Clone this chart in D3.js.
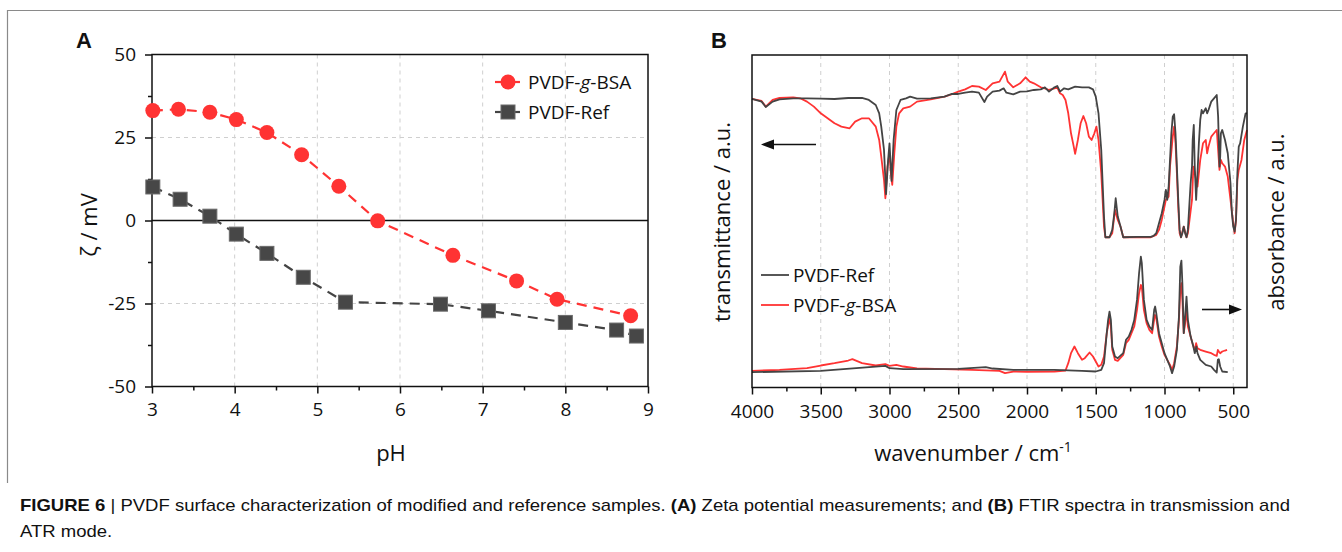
<!DOCTYPE html>
<html><head><meta charset="utf-8">
<script src="https://cdn.jsdelivr.net/npm/d3@7"></script>
<style>
body{margin:0;background:#fff;}
svg text{font-family:"Open Sans",sans-serif;fill:#111;}
</style></head><body>
<svg id="fig" width="1342" height="552"></svg>
<script>
// ---------- Panel A data (zeta potential) ----------
const pH_BSA   = [3.01,3.32,3.70,4.02,4.39,4.81,5.26,5.73,6.64,7.41,7.90,8.79];
const zeta_BSA = [33.1,33.5,32.6,30.4,26.5,19.8,10.3,-0.1,-10.5,-18.2,-23.7,-28.7];
const pH_Ref   = [3.01,3.34,3.70,4.02,4.39,4.83,5.34,6.49,7.07,8.00,8.62,8.86];
const zeta_Ref = [10.1,6.4,1.3,-4.1,-9.9,-17.1,-24.6,-25.2,-27.2,-30.7,-33.0,-34.8];
const pHTicks = [3,4,5,6,7,8,9];
const zetaTicks = [-50,-25,0,25,50];
const labelsA = ["PVDF-g-BSA","PVDF-Ref"];

// ---------- Panel B data (FTIR, arbitrary units) ----------
const wnTicks = [4000,3500,3000,2500,2000,1500,1000,500];
const labelsB = ["PVDF-Ref","PVDF-g-BSA"];
// transmission, PVDF-Ref
const transRef = [[4000,86.6],[3930,85.8],[3900,84.2],[3850,85.8],[3800,86.5],[3700,86.8],[3600,86.8],[3500,86.7],[3400,86.6],[3300,86.9],[3200,86.9],[3150,86.3],[3100,84.8],[3075,82.3],[3060,78.3],[3040,71.3],[3025,58.0],[3010,68.3],[3000,73.3],[2985,62.0],[2970,74.3],[2950,83.3],[2920,86.3],[2880,86.8],[2850,87.3],[2800,86.7],[2700,86.8],[2600,87.3],[2550,88.1],[2500,88.1],[2450,88.5],[2400,88.8],[2350,88.5],[2310,85.7],[2290,87.3],[2250,88.8],[2200,89.1],[2170,89.8],[2150,88.5],[2100,88.0],[2050,88.8],[2000,88.9],[1950,89.3],[1900,89.5],[1870,90.1],[1840,88.8],[1800,90.1],[1780,90.5],[1760,88.8],[1730,89.8],[1700,89.5],[1650,90.3],[1600,90.1],[1550,90.1],[1520,89.5],[1500,87.3],[1480,82.3],[1460,71.3],[1450,61.3],[1440,51.3],[1430,45.1],[1400,45.1],[1380,47.3],[1365,52.3],[1355,56.8],[1340,51.3],[1320,48.3],[1300,45.1],[1200,45.2],[1100,45.2],[1080,45.5],[1060,46.3],[1040,49.3],[1020,52.3],[1000,56.3],[990,59.3],[980,56.3],[970,60.3],[960,68.3],[950,76.3],[940,81.3],[930,82.0],[920,76.3],[910,66.3],[900,56.3],[890,47.3],[880,45.1],[870,46.3],[860,48.3],[850,46.3],[840,45.1],[830,47.3],[820,54.3],[810,61.3],[800,66.3],[795,74.3],[787,78.8],[780,66.3],[770,56.3],[760,64.3],[750,73.3],[740,80.3],[730,83.3],[720,82.3],[700,83.8],[690,82.3],[680,83.3],[660,85.8],[640,86.8],[620,87.8],[610,81.3],[600,66.3],[595,69.3],[590,76.3],[580,77.3],[560,74.3],[540,70.3],[520,61.3],[510,52.3],[500,48.3],[490,46.8],[480,50.3],[470,64.3],[460,72.3],[450,73.3],[430,78.3],[410,82.3],[400,82.3]];
// transmission, PVDF-g-BSA
const transBSA = [[4000,86.6],[3930,86.0],[3900,84.3],[3850,86.3],[3800,86.9],[3700,87.1],[3650,86.8],[3600,85.8],[3550,84.3],[3500,82.3],[3450,80.8],[3400,79.3],[3350,78.3],[3290,77.8],[3250,79.8],[3200,80.8],[3150,80.8],[3100,78.3],[3075,74.3],[3060,69.3],[3040,62.3],[3030,56.8],[3015,66.3],[3000,70.3],[2990,64.3],[2980,60.8],[2965,70.3],[2950,78.3],[2930,82.3],[2900,83.8],[2850,84.3],[2800,85.8],[2700,86.5],[2600,87.3],[2550,88.0],[2500,88.8],[2450,89.5],[2400,90.5],[2350,90.3],[2300,89.3],[2250,91.3],[2200,91.8],[2160,94.8],[2140,91.8],[2100,90.1],[2050,91.3],[2010,93.1],[1980,91.8],[1950,91.3],[1900,90.1],[1870,89.8],[1840,89.3],[1800,89.8],[1780,90.1],[1760,88.3],[1740,87.8],[1720,86.3],[1700,82.3],[1680,76.3],[1660,72.3],[1650,70.1],[1630,74.3],[1610,79.3],[1590,81.5],[1570,79.3],[1550,75.3],[1530,74.3],[1510,76.3],[1495,78.3],[1480,74.3],[1460,64.3],[1450,56.3],[1440,48.3],[1430,45.1],[1400,45.1],[1380,46.3],[1360,53.3],[1340,50.3],[1320,48.3],[1300,45.1],[1100,45.1],[1060,45.8],[1040,47.3],[1020,50.3],[1000,54.3],[990,56.3],[970,57.3],[960,66.3],[940,75.3],[930,78.3],[920,73.3],[910,64.3],[900,54.3],[890,46.3],[880,45.1],[860,48.3],[840,45.1],[830,46.3],[800,56.3],[790,66.3],[780,64.3],[760,60.3],[740,68.3],[720,73.3],[700,74.3],[690,70.3],[680,72.3],[660,75.3],[640,76.3],[620,77.3],[600,65.3],[590,68.3],[580,67.3],[560,66.3],[540,63.3],[520,56.3],[500,49.3],[490,46.3],[480,50.3],[470,62.3],[460,65.3],[440,68.3],[420,74.3],[400,77.3]];
// ATR absorbance, PVDF-Ref
const absRef = [[4000,4.6],[3500,5.0],[3030,6.5],[3000,5.8],[2900,5.5],[2500,5.6],[2300,6.1],[2250,5.7],[2100,5.3],[1800,5.3],[1600,5.0],[1500,4.8],[1460,5.3],[1440,7.3],[1420,16.3],[1410,20.3],[1400,22.8],[1390,20.3],[1380,12.3],[1360,9.3],[1340,8.8],[1300,10.3],[1280,14.3],[1260,15.3],[1240,17.3],[1220,20.3],[1200,26.3],[1185,34.3],[1172,39.3],[1165,37.3],[1150,26.3],[1130,20.3],[1110,18.3],[1090,17.3],[1075,23.3],[1068,24.3],[1060,22.3],[1040,16.3],[1020,13.3],[1000,10.3],[980,8.3],[960,6.3],[945,4.3],[930,6.3],[910,11.3],[895,21.3],[885,36.3],[877,38.1],[870,31.3],[860,16.3],[850,21.3],[840,27.3],[830,20.3],[810,15.3],[790,12.3],[780,10.3],[768,12.3],[760,10.3],[740,8.3],[700,6.8],[660,6.3],[640,5.3],[620,4.5],[612,8.3],[605,8.5],[595,6.3],[580,4.8],[540,4.6]];
// ATR absorbance, PVDF-g-BSA
const absBSA = [[4000,5.0],[3800,5.3],[3600,5.8],[3500,6.6],[3400,7.3],[3300,8.1],[3270,8.5],[3200,7.3],[3100,6.6],[3030,7.0],[3000,6.5],[2950,6.8],[2900,6.3],[2800,5.7],[2600,5.5],[2400,5.3],[2200,5.0],[2160,4.3],[2100,4.8],[2000,4.7],[1800,4.8],[1720,5.1],[1700,7.3],[1680,10.3],[1655,12.3],[1630,10.3],[1600,8.3],[1580,8.8],[1545,10.5],[1520,9.3],[1500,7.8],[1480,6.3],[1460,6.8],[1440,9.3],[1420,16.3],[1400,20.8],[1390,18.3],[1380,11.3],[1360,8.3],[1340,8.0],[1300,9.8],[1280,13.3],[1260,14.3],[1240,16.3],[1220,18.3],[1200,23.3],[1185,28.3],[1172,30.8],[1165,30.3],[1150,23.3],[1130,19.3],[1110,17.3],[1090,16.3],[1070,21.8],[1060,20.8],[1040,15.3],[1020,12.3],[1000,9.8],[980,8.3],[960,6.8],[945,5.3],[930,7.3],[910,12.3],[895,20.3],[885,29.3],[877,31.3],[870,26.3],[860,16.3],[850,19.3],[840,23.3],[830,18.3],[810,15.3],[790,12.3],[780,11.3],[770,13.3],[760,11.8],[740,11.3],[700,10.8],[660,10.3],[640,9.8],[620,9.5],[612,11.3],[605,10.8],[595,10.3],[580,10.8],[560,11.1],[545,11.3]];

const RED = "#ff3333", GRAY = "#444444", GRID = "#cfcfcf";
const svg = d3.select("#fig");

// figure border (top and left)
svg.append("line").attr("x1",7).attr("y1",10.5).attr("x2",1342).attr("y2",10.5).attr("stroke","#8a8a8a").attr("stroke-width",1.2);
svg.append("line").attr("x1",7.5).attr("y1",10).attr("x2",7.5).attr("y2",483).attr("stroke","#8a8a8a").attr("stroke-width",1.2);

// ================= Panel A =================
const xA = d3.scaleLinear().domain([3,9]).range([152,648]);
const yA = d3.scaleLinear().domain([-50,50]).range([386.5,54.5]);
const gA = svg.append("g");

// grid
gA.selectAll(".vg").data(pHTicks.slice(1,-1)).join("line")
  .attr("x1",d=>xA(d)).attr("x2",d=>xA(d)).attr("y1",yA(50)).attr("y2",yA(-50))
  .attr("stroke",GRID).attr("stroke-dasharray","4,4");
gA.selectAll(".hg").data([25,-25]).join("line")
  .attr("x1",xA(3)).attr("x2",xA(9)).attr("y1",d=>yA(d)).attr("y2",d=>yA(d))
  .attr("stroke",GRID).attr("stroke-dasharray","4,4");
// zero line
gA.append("line").attr("x1",xA(3)).attr("x2",xA(9)).attr("y1",yA(0)).attr("y2",yA(0))
  .attr("stroke","#111").attr("stroke-width",1.5);

// axes
const axXA = d3.axisBottom(xA).tickValues(pHTicks).tickSize(7).tickPadding(9).tickFormat(d3.format("d"));
const axXAm = d3.axisBottom(xA).tickValues(d3.range(3.5,9,1)).tickSize(4).tickFormat("");
const axYA = d3.axisLeft(yA).tickValues(zetaTicks).tickSize(7).tickPadding(9).tickFormat(d=>String(d));
const axYAm = d3.axisLeft(yA).tickValues([-37.5,-12.5,12.5,37.5]).tickSize(4).tickFormat("");
function styleAxis(g){ g.select(".domain").remove(); g.selectAll("line").attr("stroke","#111").attr("stroke-width",1.5);
  g.selectAll("text").style("font-size","19px").attr("fill","#111"); }
gA.append("g").attr("transform",`translate(0,${yA(-50)})`).call(axXA).call(styleAxis);
gA.append("g").attr("transform",`translate(0,${yA(-50)})`).call(axXAm).call(styleAxis);
gA.append("g").attr("transform",`translate(${xA(3)},0)`).call(axYA).call(styleAxis);
gA.append("g").attr("transform",`translate(${xA(3)},0)`).call(axYAm).call(styleAxis);
// frame
gA.append("rect").attr("x",xA(3)).attr("y",yA(50)).attr("width",xA(9)-xA(3)).attr("height",yA(-50)-yA(50))
  .attr("fill","none").attr("stroke","#111").attr("stroke-width",1.5);

// series
const lineA = d3.line().x(d=>xA(d[0])).y(d=>yA(d[1]));
const ref = pH_Ref.map((p,i)=>[p,zeta_Ref[i]]);
const bsa = pH_BSA.map((p,i)=>[p,zeta_BSA[i]]);
gA.append("path").datum(ref).attr("d",lineA).attr("fill","none").attr("stroke",GRAY).attr("stroke-width",2.2).attr("stroke-dasharray","10,7");
gA.append("path").datum(bsa).attr("d",lineA).attr("fill","none").attr("stroke",RED).attr("stroke-width",2.2).attr("stroke-dasharray","10,7");
gA.selectAll(".sq").data(ref).join("rect")
  .attr("x",d=>xA(d[0])-7).attr("y",d=>yA(d[1])-7).attr("width",14).attr("height",14)
  .attr("fill","#474747").attr("stroke","#6a6a6a").attr("stroke-width",1);
gA.selectAll(".ci").data(bsa).join("circle")
  .attr("cx",d=>xA(d[0])).attr("cy",d=>yA(d[1])).attr("r",7.5).attr("fill",RED);

// legend A
const legA = gA.append("g");
legA.append("line").attr("x1",495).attr("x2",520).attr("y1",82).attr("y2",82).attr("stroke",RED).attr("stroke-width",2.2);
legA.append("circle").attr("cx",508).attr("cy",82).attr("r",7.5).attr("fill",RED);
legA.append("line").attr("x1",495).attr("x2",520).attr("y1",112).attr("y2",112).attr("stroke",GRAY).attr("stroke-width",2.2);
legA.append("rect").attr("x",501).attr("y",105).attr("width",14).attr("height",14).attr("fill","#474747").attr("stroke","#6a6a6a");
function legendText(g,x,y,label){
  const t = g.append("text").attr("x",x).attr("y",y).style("font-size","19px");
  const parts = label.split("-g-");
  if(parts.length===2){ t.append("tspan").text(parts[0]+"-"); t.append("tspan").style("font-style","italic").text("g"); t.append("tspan").text("-"+parts[1]); }
  else t.text(label);
}
legendText(legA,528,89,labelsA[0]);
legendText(legA,528,119,labelsA[1]);

// titles A
svg.append("text").attr("x",76).attr("y",48).style("font-family","Liberation Sans, Arial, sans-serif").style("font-weight","bold").style("font-size","22px").text("A");
svg.append("text").attr("x",391).attr("y",461).attr("text-anchor","middle").style("font-size","22px").text("pH");
svg.append("text").attr("transform","translate(97,225) rotate(-90)").attr("text-anchor","middle").style("font-size","22px").text("ζ / mV");

// ================= Panel B =================
const xB = d3.scaleLinear().domain([4000,400]).range([752,1247]);
const yB = d3.scaleLinear().domain([0,99.8]).range([387.5,55]);
const gB = svg.append("g");
gB.selectAll(".vg").data(wnTicks.slice(1)).join("line")
  .attr("x1",d=>xB(d)).attr("x2",d=>xB(d)).attr("y1",yB(99.8)).attr("y2",yB(0))
  .attr("stroke",GRID).attr("stroke-dasharray","4,4");
const axXB = d3.axisBottom(xB).tickValues(wnTicks).tickSize(7).tickPadding(10).tickFormat(d3.format("d"));
const axXBm = d3.axisBottom(xB).tickValues(d3.range(3750,400,-500)).tickSize(4).tickFormat("");
gB.append("g").attr("transform",`translate(0,${yB(0)})`).call(axXB).call(styleAxis);
gB.append("g").attr("transform",`translate(0,${yB(0)})`).call(axXBm).call(styleAxis);

const lineB = d3.line().x(d=>xB(d[0])).y(d=>yB(d[1]));
[[transBSA,RED],[absBSA,RED],[transRef,GRAY],[absRef,GRAY]].forEach(([data,c])=>{
  gB.append("path").datum(data).attr("d",lineB).attr("fill","none").attr("stroke",c).attr("stroke-width",1.8).attr("stroke-linejoin","round");
});
gB.append("rect").attr("x",xB(4000)).attr("y",yB(99.8)).attr("width",xB(400)-xB(4000)).attr("height",yB(0)-yB(99.8))
  .attr("fill","none").attr("stroke","#111").attr("stroke-width",1.5);

// arrows
function arrow(x1,x2,y){
  const dir = Math.sign(x2-x1);
  gB.append("line").attr("x1",x1).attr("x2",x2-dir*10).attr("y1",y).attr("y2",y).attr("stroke","#111").attr("stroke-width",1.6);
  gB.append("path").attr("d",`M${x2},${y} L${x2-dir*13},${y-5} L${x2-dir*13},${y+5} Z`).attr("fill","#111");
}
arrow(816,761,144.5);
arrow(1202,1242,309.5);

// legend B
const legB = gB.append("g");
legB.append("line").attr("x1",761).attr("x2",789).attr("y1",275).attr("y2",275).attr("stroke",GRAY).attr("stroke-width",1.8);
legB.append("line").attr("x1",761).attr("x2",789).attr("y1",305).attr("y2",305).attr("stroke",RED).attr("stroke-width",1.8);
legendText(legB,793,282,labelsB[0]);
legendText(legB,793,312,labelsB[1]);

// titles B
svg.append("text").attr("x",711).attr("y",48).style("font-family","Liberation Sans, Arial, sans-serif").style("font-weight","bold").style("font-size","22px").text("B");
const wt = svg.append("text").attr("x",973).attr("y",461).attr("text-anchor","middle").style("font-size","22px");
wt.append("tspan").text("wavenumber / cm");
wt.append("tspan").attr("dy",-9).style("font-size","14px").text("-1");
svg.append("text").attr("transform","translate(730,222) rotate(-90)").attr("text-anchor","middle").style("font-size","22px").text("transmittance / a.u.");
svg.append("text").attr("transform","translate(1284,222) rotate(-90)").attr("text-anchor","middle").style("font-size","22px").text("absorbance / a.u.");

// ================= Caption =================
const capFont = "Liberation Sans, Arial, sans-serif";
const c1 = svg.append("text").attr("x",20).attr("y",511).style("font-family",capFont).style("font-size","17px");
c1.append("tspan").style("font-weight","bold").style("font-family",capFont).text("FIGURE 6");
c1.append("tspan").style("font-family",capFont).text(" | PVDF surface characterization of modified and reference samples. ");
c1.append("tspan").style("font-weight","bold").style("font-family",capFont).text("(A)");
c1.append("tspan").style("font-family",capFont).text(" Zeta potential measurements; and ");
c1.append("tspan").style("font-weight","bold").style("font-family",capFont).text("(B)");
c1.append("tspan").style("font-family",capFont).text(" FTIR spectra in transmission and");
const nat1 = c1.node().getComputedTextLength();
const ratio = 1270/nat1;
c1.attr("textLength",1270).attr("lengthAdjust","spacingAndGlyphs");
const c2 = svg.append("text").attr("x",20).attr("y",537).style("font-family",capFont).style("font-size","17px").text("ATR mode.");
const nat2 = c2.node().getComputedTextLength();
c2.attr("textLength",nat2*ratio).attr("lengthAdjust","spacingAndGlyphs");
</script>
</body></html>
